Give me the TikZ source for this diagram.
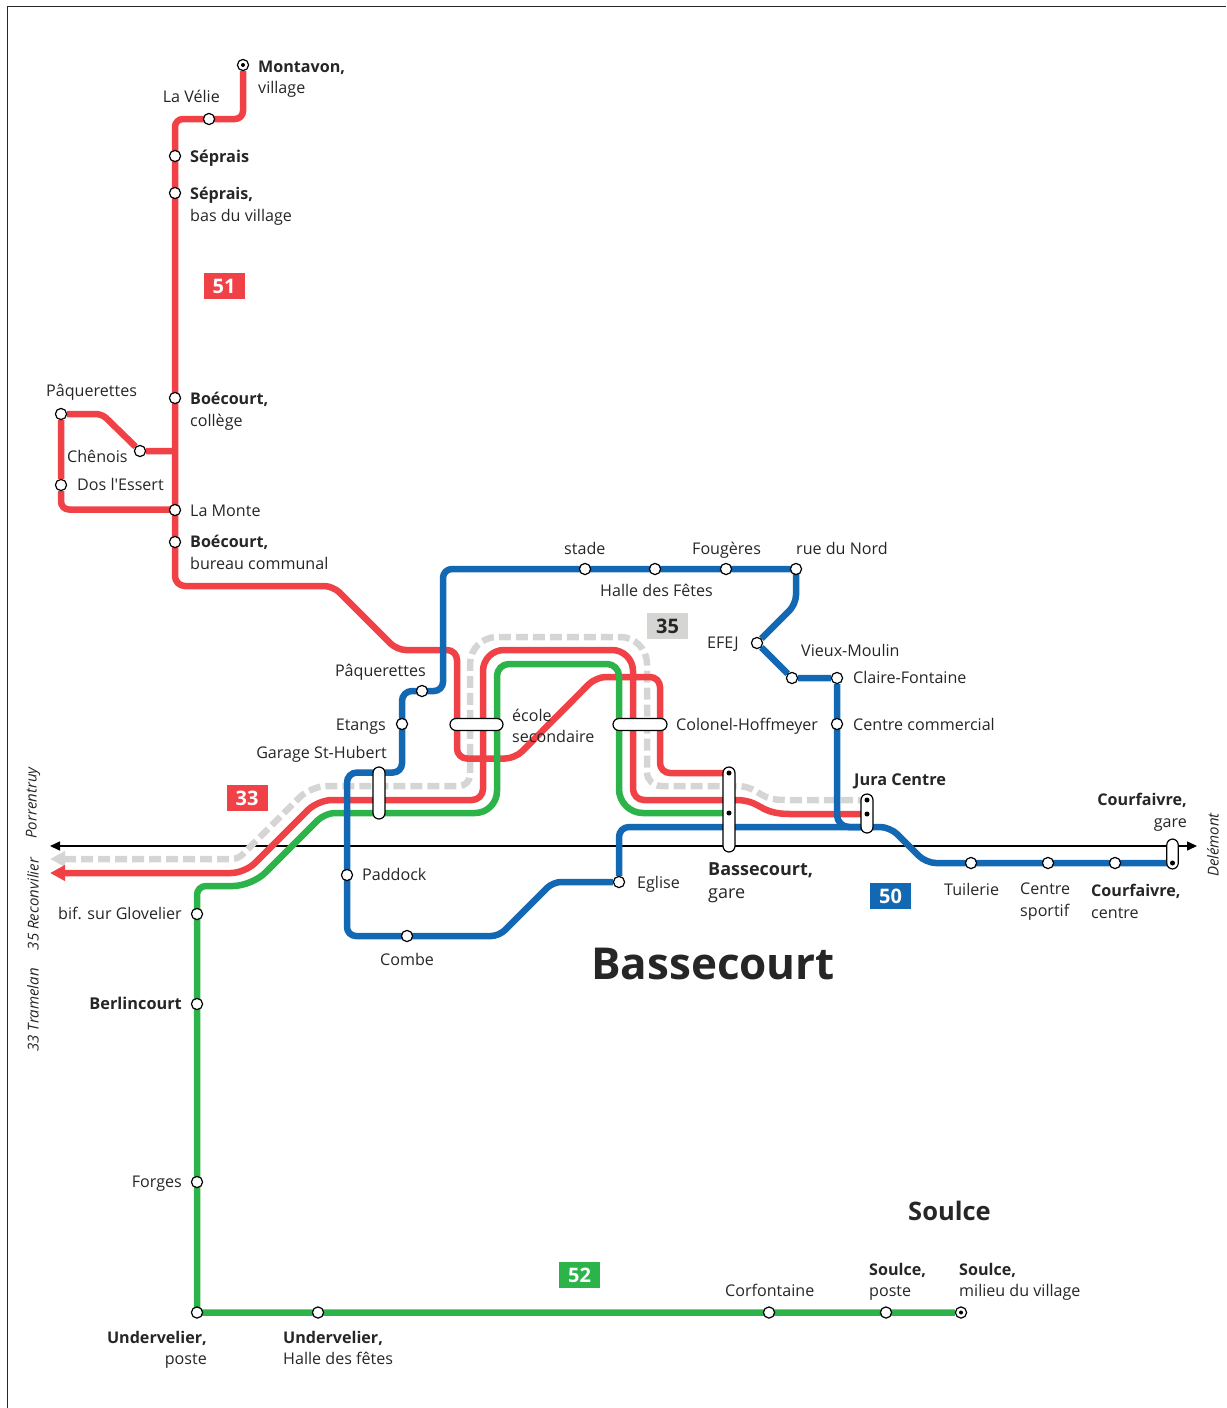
\documentclass[tikz,border=0pt]{standalone}
\usepackage{fontspec}
\setmainfont{Open Sans}
\newfontfamily\plainfont{Open Sans}
\usetikzlibrary{arrows.meta,backgrounds}
\definecolor{rl}{HTML}{EF4146}
\definecolor{bl}{HTML}{1268B3}
\definecolor{gl}{HTML}{2CB34A}
\definecolor{gy}{HTML}{D5D6D4}
\definecolor{ink}{HTML}{262626}
\tikzset{
 x=1pt,y=-1pt,
 st/.style={circle,draw=black,fill=white,line width=1.2pt,minimum size=11.2pt,inner sep=0pt},
 dotn/.style={circle,fill=black,minimum size=5pt,inner sep=0pt},
 pill/.style={draw=black,fill=white,line width=1.2pt,rounded corners=6pt,inner sep=0pt},
 lab/.style={inner sep=0pt,text=ink,font=\fontsize{16.1}{21.5}\selectfont},
 labb/.style={lab,font=\fontsize{16.3}{21.5}\selectfont\bfseries},
 tl/.style={lab,anchor=north west,align=left},
 tr/.style={lab,anchor=north east,align=right},
 badge/.style={minimum width=41pt,minimum height=26pt,inner sep=0pt,text=white,font=\fontsize{20}{24}\selectfont\bfseries},
 side/.style={lab,rotate=90,font=\fontsize{15}{18}\selectfont\itshape},
 rline/.style={draw=rl,line width=6.5pt},
 bline/.style={draw=bl,line width=6.5pt},
 gline/.style={draw=gl,line width=6.5pt},
 yline/.style={draw=gy,line width=6.5pt,dash pattern=on 12pt off 5pt},
}
\begin{document}
\begin{tikzpicture}
\useasboundingbox (0,0) rectangle (1226,1408);
% frame
\draw[line width=1pt,draw=black!85] (7,1408) -- (7,6.5) -- (1226,6.5);
% stations
\node[st] (sMont) at (243,65) {};
\node[dotn,minimum size=4pt] (dMont) at (243,65) {};
\node[st] (sVelie) at (209,119) {};
\node[st] (sSep) at (175,156) {};
\node[st] (sSepB) at (175,193) {};
\node[st] (sBoeC) at (175,398) {};
\node[st] (sChen) at (140,451) {};
\node[st] (sPaqA) at (61,414) {};
\node[st] (sDos) at (61,485) {};
\node[st] (sMonte) at (175,510) {};
\node[st] (sBoeB) at (175,542) {};
\node[st] (sStade) at (585,569) {};
\node[st] (sHalle) at (655,569) {};
\node[st] (sFoug) at (726,569) {};
\node[st] (sNord) at (796,569) {};
\node[st] (sEFEJ) at (757,643) {};
\node[st] (sVieux) at (792,678) {};
\node[st] (sClaire) at (837,678) {};
\node[st] (sCom) at (837,724) {};
\node[st] (sPaqB) at (422,691) {};
\node[st] (sEtangs) at (402,724) {};
\node[st] (sPaddock) at (347,875) {};
\node[st] (sCombe) at (407,936) {};
\node[st] (sEglise) at (619,882) {};
\node[st] (sTuil) at (971,863) {};
\node[st] (sSport) at (1048,863) {};
\node[st] (sCourC) at (1115,863) {};
\node[st] (sBif) at (197,914) {};
\node[st] (sBerl) at (197,1004) {};
\node[st] (sForges) at (197,1182) {};
\node[st] (sUndP) at (197,1312.5) {};
\node[st] (sUndH) at (318,1312.5) {};
\node[st] (sCorf) at (769,1312.5) {};
\node[st] (sSouP) at (886,1312.5) {};
\node[st] (sSouM) at (961,1312.5) {};
\node[dotn,minimum size=4pt] (dSouM) at (961,1312.5) {};
% pills
\node[pill,minimum width=12pt,minimum height=52pt] (pGarage) at (379,793) {};
\node[pill,minimum width=53pt,minimum height=12pt] (pEcole) at (476.5,724.5) {};
\node[pill,minimum width=54pt,minimum height=12pt] (pColonel) at (640,724.5) {};
\node[pill,minimum width=12pt,minimum height=85pt] (pBass) at (729,809.5) {};
\node[pill,minimum width=12pt,minimum height=39pt] (pJura) at (867,813.5) {};
\node[pill,minimum width=11.5pt,minimum height=30pt] (pCour) at (1172.5,854) {};
\node[dotn] (dB1) at (729,773) {};
\node[dotn] (dB2) at (729,813) {};
\node[dotn] (dJ1) at (867,800) {};
\node[dotn] (dJ2) at (867,814) {};
\node[dotn] (dC) at (1172.5,863) {};
\coordinate (arrL) at (50,846);
\coordinate (arrR) at (1197,846);
\coordinate (endY) at (50,859);
\coordinate (endR) at (50,873);
\begin{scope}[on background layer]
\draw[line width=1.5pt,draw=black,{Triangle[length=10pt,width=9pt]}-{Triangle[length=10pt,width=9pt]}] (arrL) -- (arrR);
% grey 35
\draw[yline,{Triangle[length=15pt,width=15pt]}-] (endY) [rounded corners=6pt] -- (238,859) [rounded corners=16pt] -- (311,786) [rounded corners=11pt] -- (470,786) [rounded corners=27pt] -- (470,637) [rounded corners=27pt] -- (647,637) [rounded corners=14pt] -- (647,786) [sharp corners] -- (740,786) .. controls (762,789) and (758,800) .. (785,800) -- (dJ1);
% red 33
\draw[rline,{Triangle[length=15pt,width=15pt]}-] (endR) [rounded corners=14pt] -- (245,873) [rounded corners=14pt] -- (318,800) [rounded corners=11pt] -- (483,800) [rounded corners=21pt] -- (483,650) [rounded corners=21pt] -- (633,650) [rounded corners=11pt] -- (633,800) [sharp corners] -- (735,800) .. controls (762,800) and (758,814) .. (790,814) -- (dJ2);
% red 51
\draw[rline] (sMont) [rounded corners=8pt] -- (243,119) [rounded corners=8pt] -- (175,119) [rounded corners=10pt] -- (175,586) [rounded corners=9pt] -- (333,586) [rounded corners=9pt] -- (397,650) [rounded corners=10pt] -- (457,650) [rounded corners=10pt] -- (457,758.5) [rounded corners=10pt] -- (515,758.5) [rounded corners=10pt] -- (596,677) [rounded corners=10pt] -- (660,677) [rounded corners=10pt] -- (660,773) -- (dB1);
\draw[rline] (175,451) -- (sChen) [rounded corners=6pt] -- (102,414) [sharp corners] -- (sPaqA) -- (sDos) [rounded corners=8pt] -- (61,509.5) -- (175,509.5);
% green 52
\draw[gline] (sSouM) -- (197,1312.5) [rounded corners=9pt] -- (197,886) [rounded corners=19pt] -- (252,886) [rounded corners=10pt] -- (325,813) [rounded corners=22pt] -- (497,813) [rounded corners=12pt] -- (497,664) [rounded corners=12pt] -- (619,664) [rounded corners=24pt] -- (619,813) -- (dB2);
% blue 50
\draw[bline] (sEglise) [rounded corners=10pt] -- (619,827) [rounded corners=10pt] -- (890,827) [rounded corners=10pt] -- (926,863) -- (dC);
\draw[bline] (sEglise) [rounded corners=8pt] -- (553,882) [rounded corners=8pt] -- (499,936) [rounded corners=9pt] -- (347,936) [rounded corners=10pt] -- (347,772.5) [rounded corners=9pt] -- (402,772.5) [rounded corners=10pt] -- (402,691) [rounded corners=9pt] -- (443,691) [rounded corners=9pt] -- (443,569) [sharp corners] -- (796,569) [rounded corners=9pt] -- (796,604) [sharp corners] -- (sEFEJ) -- (sVieux) -- (sClaire) [rounded corners=12pt] -- (837,827) -- (867,827);
\end{scope}
% badges
\node[badge,fill=rl] (b51) at (224,286) {51};
\node[badge,fill=rl] (b33) at (247,798) {33};
\node[badge,fill=gy,text=ink] (b35) at (667.5,626) {35};
\node[badge,fill=bl] (b50) at (890.5,896) {50};
\node[badge,fill=gl] (b52) at (579.5,1275) {52};
% labels
\node[tl] (tMont) at (258,60.5) {\textbf{Montavon,}\\village};
\node[lab,anchor=base east] (tVelie) at (220,102) {La Vélie};
\node[labb,anchor=base west] (tSep) at (190,162) {Séprais};
\node[tl] (tSepB) at (190,187) {\textbf{Séprais,}\\bas du village};
\node[lab,anchor=base west] (tPaqA) at (46,396) {Pâquerettes};
\node[tl] (tBoeC) at (190,392) {\textbf{Boécourt,}\\collège};
\node[lab,anchor=base west] (tChen) at (67,462) {Chênois};
\node[lab,anchor=base west] (tDos) at (77,490) {Dos l{\plainfont '}Essert};
\node[lab,anchor=base west] (tMonte) at (190,516) {La Monte};
\node[tl] (tBoeB) at (190,535) {\textbf{Boécourt,}\\bureau communal};
\node[lab,anchor=base west] (tStade) at (564,554) {stade};
\node[lab,anchor=base west] (tFoug) at (692,554) {Fougères};
\node[lab,anchor=base west] (tNord) at (796,554) {rue du Nord};
\node[lab,anchor=base west] (tHalle) at (600,596) {Halle des Fêtes};
\node[lab,anchor=base west] (tEFEJ) at (707,648) {EFEJ};
\node[lab,anchor=base west] (tVieux) at (801,656) {Vieux-Moulin};
\node[lab,anchor=base west] (tClaire) at (853,683) {Claire-Fontaine};
\node[lab,anchor=base west] (tCom) at (853,730) {Centre commercial};
\node[lab,anchor=base west] (tCol) at (676,730) {Colonel-Hoffmeyer};
\node[tl] (tEcole) at (512,708.5) {école\\secondaire};
\node[lab,anchor=base east] (tPaqB) at (426,676) {Pâquerettes};
\node[lab,anchor=base east] (tEtangs) at (386,730) {Etangs};
\node[lab,anchor=base east] (tGarage) at (387,758) {Garage St-Hubert};
\node[labb,anchor=base west] (tJura) at (854,785) {Jura Centre};
\node[lab,anchor=base west] (tPaddock) at (362,880) {Paddock};
\node[lab,anchor=base west] (tCombe) at (380,965) {Combe};
\node[lab,anchor=base west] (tEglise) at (637,888) {Eglise};
\node[tl,font=\fontsize{18}{23}\selectfont] (tBass) at (708,862) {\textbf{Bassecourt,}\\gare};
\node[tr] (tCourG) at (1187,793) {\textbf{Courfaivre,}\\gare};
\node[lab,anchor=base west] (tTuil) at (944,895) {Tuilerie};
\node[tl] (tSport) at (1020,883) {Centre\\sportif};
\node[tl] (tCourC) at (1091,884) {\textbf{Courfaivre,}\\centre};
\node[lab,anchor=base east] (tBif) at (182,919) {bif. sur Glovelier};
\node[labb,anchor=base east] (tBerl) at (182,1009) {Berlincourt};
\node[lab,anchor=base east] (tForges) at (182,1187) {Forges};
\node[tr] (tUndP) at (207,1331) {\textbf{Undervelier,}\\poste};
\node[tl] (tUndH) at (283,1331) {\textbf{Undervelier,}\\Halle des fêtes};
\node[lab,anchor=base west] (tCorf) at (725,1296) {Corfontaine};
\node[tl] (tSouP) at (869,1263) {\textbf{Soulce,}\\poste};
\node[tl] (tSouM) at (959,1263) {\textbf{Soulce,}\\milieu du village};
\node[lab,anchor=base west,font=\fontsize{44}{50}\selectfont\bfseries] (tBig) at (591,979) {Bassecourt};
\node[lab,anchor=base west,font=\fontsize{25.5}{30}\selectfont\bfseries] (tSoulce) at (908,1220) {Soulce};
% side labels
\node[side] (tPorr) at (33,803) {Porrentruy};
\node[side] (tRec) at (33,904) {35 Reconvilier};
\node[side] (tTram) at (33,1010) {33 Tramelan};
\node[side] (tDel) at (1213,845) {Delémont};
\end{tikzpicture}
\end{document}
